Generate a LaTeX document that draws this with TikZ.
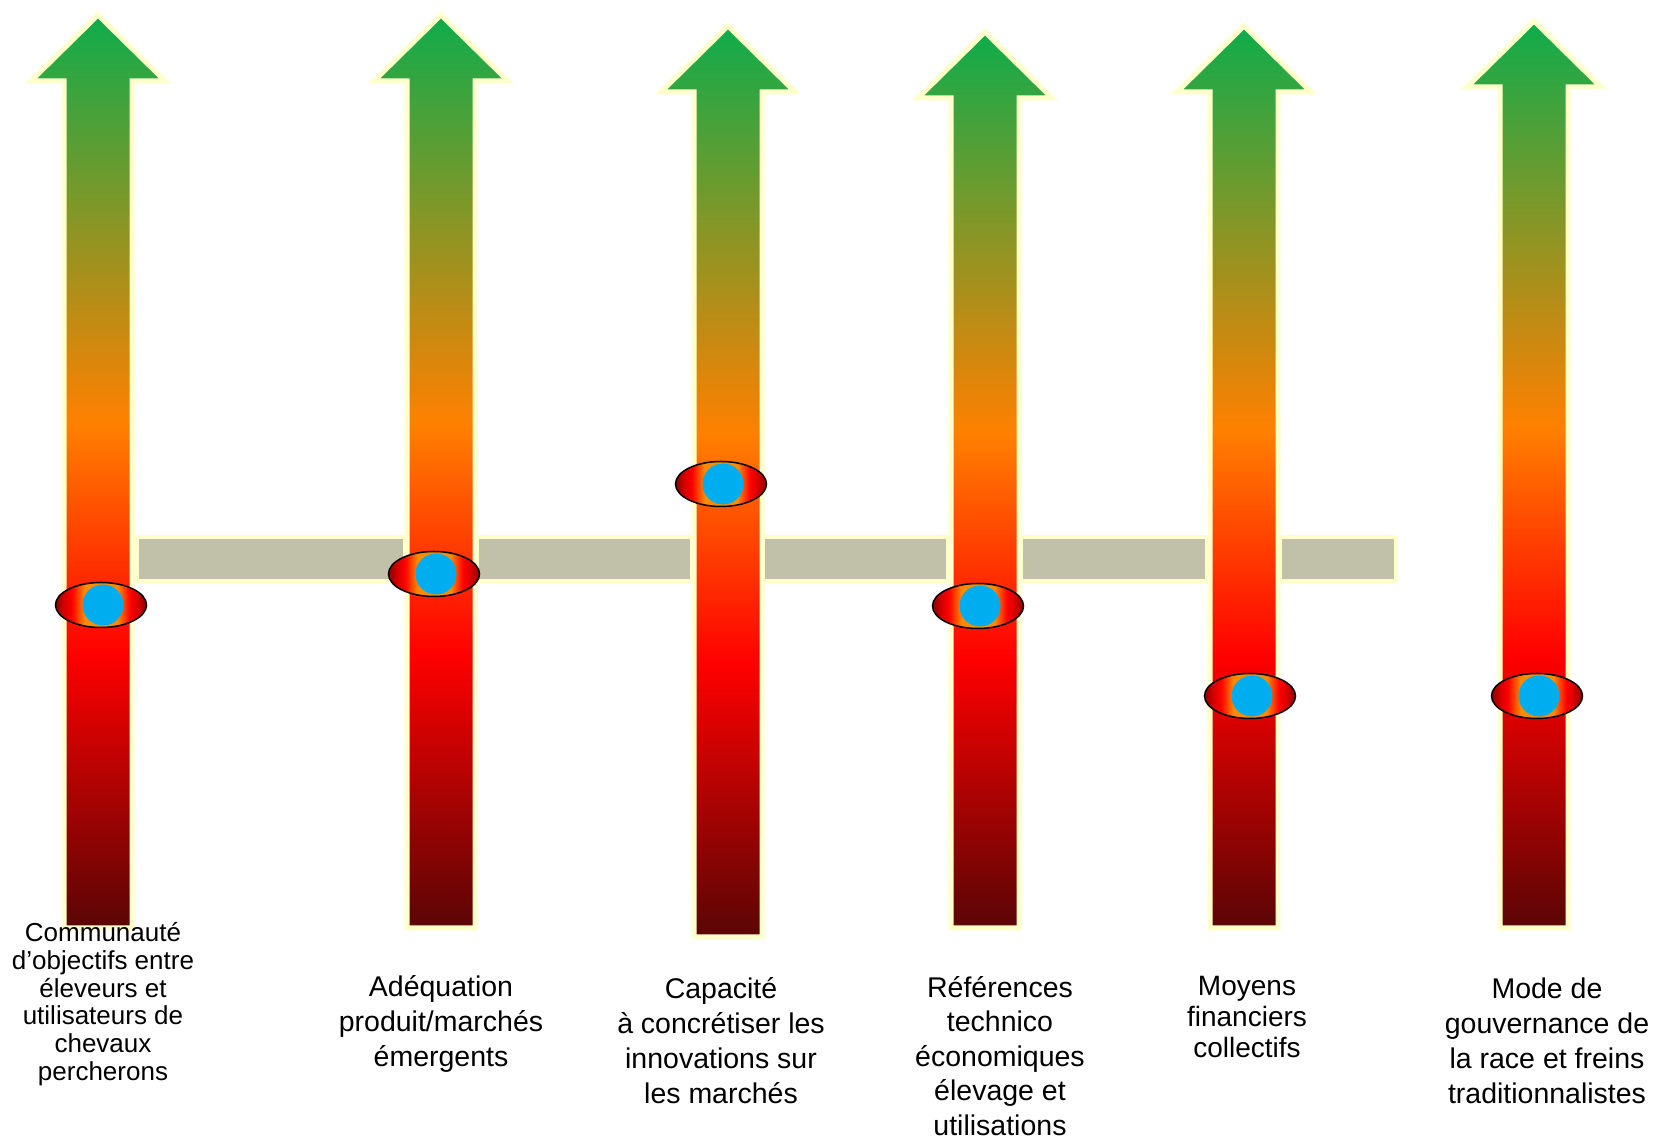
\documentclass[tikz,border=0pt]{standalone}
\usepackage{fontspec}
\setmainfont{Liberation Sans}
\usetikzlibrary{shapes.geometric}

\definecolor{paleyellow}{HTML}{FFFFCC}
\definecolor{bargray}{RGB}{193,193,170}
\definecolor{arrowgreen}{RGB}{14,172,76}
\definecolor{arroworange}{RGB}{255,128,0}
\definecolor{arrowred}{RGB}{255,0,0}
\definecolor{arrowdark}{RGB}{90,5,5}
\definecolor{eyedark}{RGB}{140,0,0}
\definecolor{eyered}{RGB}{215,0,0}
\definecolor{eyeorange}{RGB}{255,140,0}
\definecolor{pupilblue}{HTML}{00AEEF}

% shadings (the path box covers 25bp..75bp)
\pgfdeclareverticalshading{arrowgrad}{100bp}{color(0bp)=(arrowdark); color(25bp)=(arrowdark); color(40bp)=(arrowred); color(52.6bp)=(arroworange); color(75bp)=(arrowgreen); color(100bp)=(arrowgreen)}
\pgfdeclarehorizontalshading{eyegrad}{100bp}{color(0bp)=(eyedark); color(25bp)=(eyedark); color(30bp)=(eyered); color(34bp)=(arrowred); color(41bp)=(eyeorange); color(59bp)=(eyeorange); color(66bp)=(arrowred); color(70bp)=(eyered); color(75bp)=(eyedark); color(100bp)=(eyedark)}

% #1 centre x, #2 tip y, #3 foot y (picture pixels, measured from the top)
\newcommand{\levelarrow}[3]{%
  \shade[shading=arrowgrad, draw=paleyellow, line width=5pt]
    (#1-34, 1142-#3) -- (#1-34, 1142-#2-66) -- (#1-67, 1142-#2-66) -- (#1, 1142-#2)
    -- (#1+67, 1142-#2-66) -- (#1+34, 1142-#2-66) -- (#1+34, 1142-#3) -- cycle;}

\begin{document}
\begin{tikzpicture}[x=1pt, y=1pt,
    gapbar/.style={fill=bargray, draw=paleyellow, line width=4pt},
    eye/.style={ellipse, draw=black, line width=1.5pt, shading=eyegrad,
      minimum width=91pt, minimum height=45pt, inner sep=0pt},
    pupil/.style={circle, fill=pupilblue, minimum size=41pt, inner sep=0pt},
    crittext/.style={align=center, font=\fontsize{28.5}{35}\selectfont}]
    \useasboundingbox (0,0) rectangle (1658,1142);

    % Draw the grey level bar
    \path[gapbar] (137,1142-537) rectangle (405,1142-581);
    \path[gapbar] (477,1142-537) rectangle (692,1142-581);
    \path[gapbar] (763,1142-537) rectangle (948,1142-581);
    \path[gapbar] (1021,1142-537) rectangle (1207,1142-581);
    \path[gapbar] (1280,1142-537) rectangle (1396,1142-581);

    % Draw the arrows
    \levelarrow{98}{15}{928}
    \levelarrow{441}{15}{928}
    \levelarrow{728}{26}{937}
    \levelarrow{985}{32}{928}
    \levelarrow{1244}{26}{928}
    \levelarrow{1534}{21}{928}

    % Mark the positions
    \node[eye] (e1) at (101,1142-605) {};
    \node[eye] (e2) at (434,1142-574) {};
    \node[eye] (e3) at (721,1142-484) {};
    \node[eye] (e4) at (978,1142-606) {};
    \node[eye] (e5) at (1250,1142-696) {};
    \node[eye] (e6) at (1537,1142-696) {};
    \foreach \e in {e1,e2,e3,e4,e5,e6}
      \node[pupil] (p\e) at ([xshift=2pt]\e.center) {};

    % Labels
    \node[crittext, font=\fontsize{26}{27.7}\selectfont] (t1) at (103,1142-1004)
      {Communauté\\d’objectifs entre\\éleveurs et\\utilisateurs de\\chevaux\\percherons};
    \node[crittext] (t2) at (441,1142-1024) {Adéquation\\produit/marchés\\émergents};
    \node[crittext] (t3) at (721,1142-1041)
      {Capacité\\à concrétiser les\\innovations sur\\les marchés};
    \node[crittext, font=\fontsize{28.5}{34.5}\selectfont] (t4) at (1000,1142-1056)
      {Références\\technico\\économiques\\élevage et\\utilisations};
    \node[crittext, font=\fontsize{28}{30.7}\selectfont] (t5) at (1247,1142-1017)
      {Moyens\\financiers\\collectifs};
    \node[crittext] (t6) at (1547,1142-1041)
      {Mode de\\gouvernance de\\la race et freins\\traditionnalistes};
\end{tikzpicture}
\end{document}
